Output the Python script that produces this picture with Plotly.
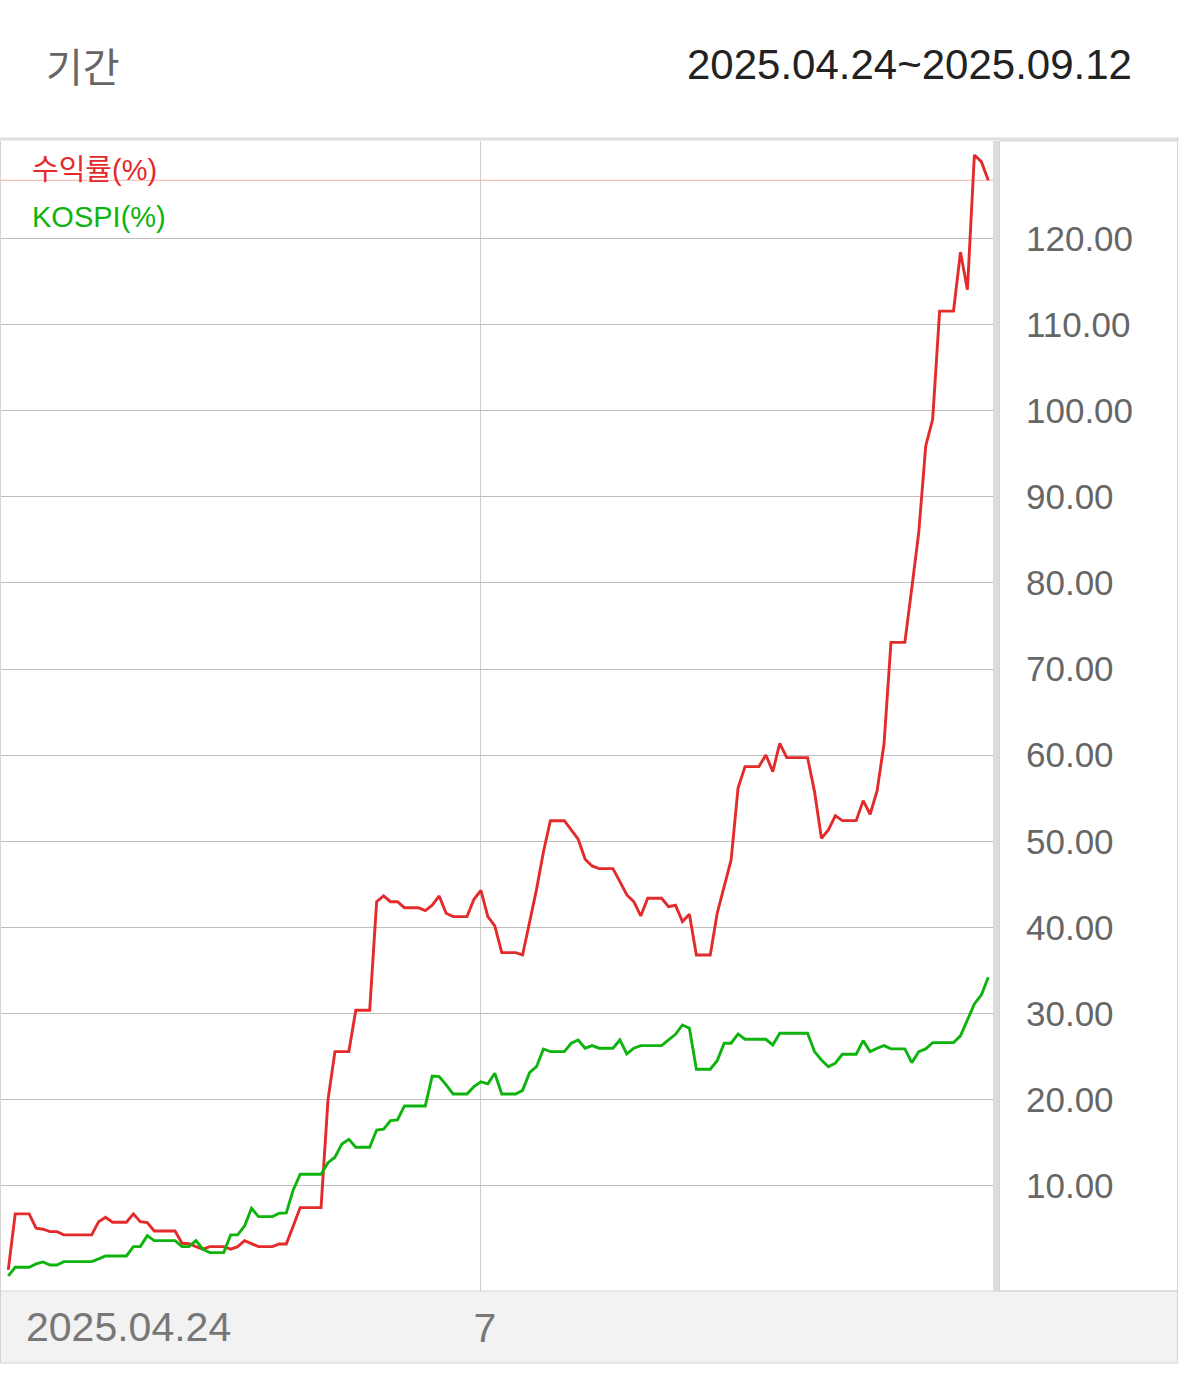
import pandas as pd
import plotly.graph_objects as go

# ---- data (daily, calendar days; weekend/holiday values repeat the previous close) ----
start_date = "2025-04-24"
end_date = "2025-09-12"
period_label = "2025.04.24~2025.09.12"
period_title = "기간"
series_names = ["수익률(%)", "KOSPI(%)"]
y_tick_vals = [10, 20, 30, 40, 50, 60, 70, 80, 90, 100, 110, 120]
x_tick_dates = ["2025-07-01"]
x_tick_text = ["7"]
first_label = "2025.04.24"

returns = [
    0.26, 6.76, 6.76, 6.76, 5.10, 4.98, 4.70, 4.70, 4.32, 4.32,
    4.32, 4.32, 4.32, 5.86, 6.37, 5.79, 5.79, 5.79, 6.76, 5.86,
    5.75, 4.78, 4.78, 4.78, 4.78, 3.35, 3.30, 2.96, 2.66, 2.96,
    2.96, 2.96, 2.66, 2.96, 3.66, 3.27, 2.96, 2.96, 2.96, 3.27,
    3.27, 5.36, 7.49, 7.49, 7.49, 7.49, 20.0, 25.6, 25.6, 25.6,
    30.4, 30.4, 30.4, 43.0, 43.67, 43.0, 43.0, 42.3, 42.3, 42.3,
    41.96, 42.6, 43.67, 41.66, 41.27, 41.27, 41.27, 43.28, 44.3, 41.27,
    40.19, 37.09, 37.09, 37.09, 36.82, 40.5, 44.4, 48.8, 52.4, 52.4,
    52.4, 51.33, 50.25, 47.93, 47.15, 46.84, 46.84, 46.84, 45.33, 43.78,
    43.0, 41.35, 43.4, 43.4, 43.4, 42.43, 42.59, 40.69, 41.54, 36.82,
    36.82, 36.82, 41.66, 44.83, 47.85, 56.2, 58.68, 58.68, 58.68, 60.03,
    58.1, 61.39, 59.72, 59.72, 59.72, 59.72, 55.78, 50.36, 51.33, 52.99,
    52.41, 52.41, 52.41, 54.73, 53.15, 55.86, 61.3, 73.1, 73.1, 73.1,
    79.43, 85.87, 95.9, 98.99, 111.55, 111.55, 111.55, 118.4, 114.03, 129.67,
    128.9, 126.74,
]

kospi = [
    -0.44, 0.56, 0.56, 0.56, 0.95, 1.18, 0.83, 0.83, 1.22, 1.22,
    1.22, 1.22, 1.22, 1.53, 1.88, 1.88, 1.88, 1.88, 2.96, 2.96,
    4.24, 3.66, 3.66, 3.66, 3.66, 2.96, 2.96, 3.66, 2.66, 2.27,
    2.27, 2.27, 4.32, 4.32, 5.36, 7.42, 6.44, 6.44, 6.44, 6.83,
    6.87, 9.54, 11.36, 11.36, 11.36, 11.36, 12.7, 13.34, 14.88, 15.42,
    14.5, 14.5, 14.5, 16.5, 16.59, 17.59, 17.67, 19.29, 19.29, 19.29,
    19.29, 22.77, 22.7, 21.73, 20.68, 20.68, 20.68, 21.53, 22.08, 21.85,
    23.09, 20.68, 20.68, 20.68, 21.1, 23.16, 23.85, 25.9, 25.6, 25.6,
    25.6, 26.57, 26.95, 25.99, 26.29, 25.99, 25.99, 25.99, 26.95, 25.33,
    25.99, 26.29, 26.29, 26.29, 26.29, 26.95, 27.61, 28.69, 28.31, 23.55,
    23.55, 23.55, 24.55, 26.57, 26.57, 27.65, 27.03, 27.03, 27.03, 27.03,
    26.37, 27.73, 27.73, 27.73, 27.73, 27.73, 25.6, 24.63, 23.85, 24.25,
    25.29, 25.29, 25.29, 26.87, 25.6, 25.99, 26.29, 25.91, 25.91, 25.91,
    24.32, 25.6, 25.91, 26.64, 26.64, 26.64, 26.64, 27.42, 29.36, 31.13,
    32.18, 34.23,
]

dates = pd.date_range(start_date, end_date, freq="D")

RED = "#e32b2b"
GREEN = "#0eb30e"

# ---- geometry (pixels) ----
W, H = 1179, 1388
PL, PR, PT, PB = 0, 993, 141, 1291   # plot area box


def xp(px):
    return (px - PL) / (PR - PL)


def yp(py):
    return (PB - py) / (PB - PT)


fig = go.Figure()
fig.add_trace(go.Scatter(x=dates, y=returns, mode="lines", name=series_names[0],
                         line=dict(color=RED, width=2.9), hoverinfo="skip"))
fig.add_trace(go.Scatter(x=dates, y=kospi, mode="lines", name=series_names[1],
                         line=dict(color=GREEN, width=2.9), hoverinfo="skip"))

x0 = pd.Timestamp(start_date) - pd.Timedelta(hours=1.19 * 24)
x1 = pd.Timestamp(end_date) + pd.Timedelta(hours=0.68 * 24)

shapes = [
    # last value marker line
    dict(type="line", xref="paper", yref="y", x0=0, x1=1, y0=returns[-1], y1=returns[-1],
         line=dict(color="#f2b0b0", width=1), layer="below"),
    # top separator
    dict(type="rect", xref="paper", yref="paper", x0=xp(0), x1=xp(W), y0=yp(140.5), y1=yp(137.5),
         fillcolor="#dedede", line=dict(width=0), layer="above"),
    # vertical gray bar between plot and axis panel
    dict(type="rect", xref="paper", yref="paper", x0=xp(993), x1=xp(1000), y0=yp(PB), y1=yp(PT),
         fillcolor="#dcdcdc", line=dict(width=0), layer="above"),
    # right axis panel border
    dict(type="rect", xref="paper", yref="paper", x0=xp(999.5), x1=xp(1177.5), y0=yp(PB), y1=yp(PT),
         fillcolor="rgba(0,0,0,0)", line=dict(color="#d4d4d4", width=1), layer="above"),
    # plot left border
    dict(type="line", xref="paper", yref="paper", x0=xp(0.5), x1=xp(0.5), y0=yp(PB), y1=yp(PT),
         line=dict(color="#d4d4d4", width=1), layer="above"),
    # bottom axis panel
    dict(type="rect", xref="paper", yref="paper", x0=xp(0.5), x1=xp(1177.5), y0=yp(1363), y1=yp(PB),
         fillcolor="#f2f2f2", line=dict(color="#d4d4d4", width=1), layer="below"),
]

annotations = [
    dict(text=period_title, xref="paper", yref="paper", x=xp(44), y=yp(65),
         xanchor="left", yanchor="middle", showarrow=False,
         font=dict(family="Noto Sans CJK KR", size=40, color="#666666")),
    dict(text=period_label, xref="paper", yref="paper", x=xp(1134), y=yp(65),
         xanchor="right", yanchor="middle", showarrow=False,
         font=dict(family="Liberation Sans", size=42, color="#222222")),
    dict(text=series_names[0], xref="paper", yref="paper", x=xp(30), y=yp(170),
         xanchor="left", yanchor="middle", showarrow=False,
         font=dict(family="Liberation Sans, Noto Sans CJK KR", size=29, color=RED)),
    dict(text=series_names[1], xref="paper", yref="paper", x=xp(30), y=yp(217),
         xanchor="left", yanchor="middle", showarrow=False,
         font=dict(family="Liberation Sans, Noto Sans CJK KR", size=29, color=GREEN)),
    dict(text=first_label, xref="paper", yref="paper", x=xp(24), y=yp(1327),
         xanchor="left", yanchor="middle", showarrow=False,
         font=dict(family="Liberation Sans", size=41, color="#777777")),
]

fig.update_layout(
    width=W, height=H,
    margin=dict(l=PL, r=W - PR, t=PT, b=H - PB, pad=0),
    paper_bgcolor="white", plot_bgcolor="white",
    showlegend=False,
    shapes=shapes,
    annotations=annotations,
    xaxis=dict(type="date", range=[x0, x1], tickvals=pd.to_datetime(x_tick_dates), ticktext=x_tick_text,
               showgrid=True, gridcolor="#cfcfcf", gridwidth=1, zeroline=False, showline=False,
               ticks="", ticklabelstandoff=9, ticklabelshift=4,
               tickfont=dict(family="Liberation Sans", size=41, color="#777777")),
    yaxis=dict(side="right", range=[-2.19, 131.3], tickvals=y_tick_vals, tickformat=".2f",
               showgrid=True, gridcolor="#bdbdbd", gridwidth=1, zeroline=False, showline=False,
               ticks="", ticklabelstandoff=32,
               tickfont=dict(family="Liberation Sans", size=35, color="#666666")),
)

fig.write_html("out.html", config={"displayModeBar": False},
               post_script="document.body.style.margin='0px';")
